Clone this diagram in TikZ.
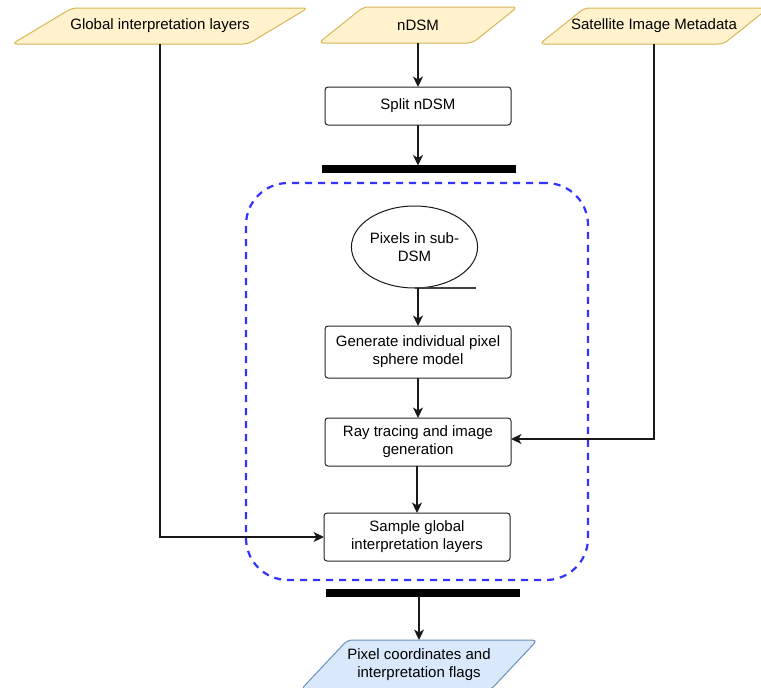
\documentclass[tikz,border=0pt]{standalone}
\usepackage{fontspec}
\setmainfont{Liberation Sans}
\usetikzlibrary{shapes.geometric,arrows.meta,backgrounds}

\definecolor{dataFill}{HTML}{FFF2CC}
\definecolor{dataLine}{HTML}{D6B656}
\definecolor{outFill}{HTML}{DAE8FC}
\definecolor{outLine}{HTML}{6C8EBF}
\definecolor{groupLine}{HTML}{3333FF}

% outline of a slanted data box drawn around the text node #1
\newcommand\paraoutline[3]{%
  \path[#3] ([xshift={-0.5*#2pt}]#1.south west) -- ([xshift={0.5*#2pt}]#1.north west)
    -- ([xshift={0.5*#2pt}]#1.north east) -- ([xshift={-0.5*#2pt}]#1.south east) -- cycle;}

\begin{document}
\begin{tikzpicture}[x=1pt,y=-1pt,
  font=\fontsize{15}{18}\selectfont,
  every node/.style={inner sep=0pt, outer sep=0pt, align=center},
  process/.style={draw=black!85, line width=1pt, rounded corners=3pt, fill=white},
  datatext/.style={minimum height=36pt},
  dataitem/.style={draw=dataLine, fill=dataFill, line width=1pt, rounded corners=5pt},
  outitem/.style={draw=outLine, fill=outFill, line width=1pt, rounded corners=5pt},
  syncbar/.style={draw=black, fill=black, minimum width=193pt, minimum height=7pt},
  flow/.style={draw=black!90, line width=1.2pt, -{Stealth[length=10.5pt,width=10pt,inset=3pt]}},
  plainline/.style={draw=black!75, line width=1.1pt},
  groupbox/.style={draw=groupLine, line width=2.2pt, dash pattern=on 7pt off 6pt, rounded corners=42pt}
]
\useasboundingbox (0,0) rectangle (761,688);

% grouping frame
\node[groupbox, minimum width=342pt, minimum height=397pt] (group) at (417,381.5) {};

% inputs
\node[datatext, minimum width=236pt] (glob) at (160,26) {Global interpretation layers};
\node[datatext, minimum width=154pt] (ndsm) at (418,25) {nDSM};
\node[datatext, minimum width=184pt] (sat) at (654,26) {Satellite Image Metadata};

% processing chain
\node[process, minimum width=186pt, minimum height=38pt] (split) at (418,106) {Split nDSM};
\node[syncbar] (bar1) at (418.5,169) {};
\node[ellipse, draw=black!90, line width=1pt, minimum width=124pt, minimum height=82pt] (ell) at (414.5,247) {Pixels in sub-\\DSM};
\node[process, minimum width=186pt, minimum height=52pt] (gen) at (418,352) {Generate individual pixel\\sphere model};
\node[process, minimum width=186pt, minimum height=48pt] (ray) at (418,442) {Ray tracing and image\\generation};
\node[process, minimum width=186pt, minimum height=48pt] (samp) at (417,537) {Sample global\\interpretation layers};
\node[syncbar] (bar2) at (422.5,592.5) {};

% output
\node[minimum width=190pt, minimum height=50pt] (out) at (419,665) {Pixel coordinates and\\interpretation flags};

\begin{scope}[on background layer]
  \paraoutline{glob}{60}{dataitem}
  \paraoutline{ndsm}{45}{dataitem}
  \paraoutline{sat}{45}{dataitem}
  \paraoutline{out}{47}{outitem}
\end{scope}

% connectors
\draw[flow] (ndsm.south) -- (split.north);
\draw[flow] (split.south) -- (split.south |- bar1.north);
\draw[plainline] (ell.south) -- ++(61,0) coordinate (stubend);
\draw[flow] (gen.north |- ell.south) -- (gen.north);
\draw[flow] (gen.south) -- (ray.north);
\draw[flow] (samp.north |- ray.south) -- (samp.north);
\draw[flow] (out.north |- bar2.south) -- (out.north);
\draw[flow] (glob.south) |- (samp.west);
\draw[flow] (sat.south) |- ([yshift=3pt]ray.east);
\end{tikzpicture}
\end{document}
